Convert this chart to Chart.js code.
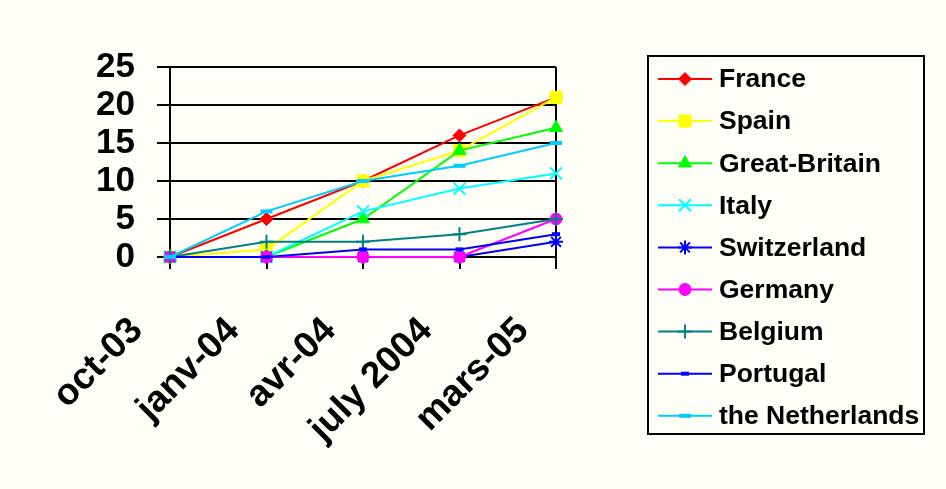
<!DOCTYPE html>
<html><head><meta charset="utf-8">
<style>html,body{margin:0;padding:0;background:#FFFFF8;}#wrap{width:946px;height:489px;}</style>
<script src="https://cdn.jsdelivr.net/npm/chart.js@4"></script>
</head><body><div id="wrap"><canvas id="c" width="946" height="489"></canvas></div>
<script>
const categories = ['oct-03','janv-04','avr-04','july 2004','mars-05'];
const seriesNames = ['France','Spain','Great-Britain','Italy','Switzerland','Germany','Belgium','Portugal','the Netherlands'];
const France = [0,5,10,16,21];
const Spain = [0,1,10,14,21];
const GreatBritain = [0,0,5,14,17];
const Italy = [0,0,6,9,11];
const Switzerland = [0,0,0,0,2];
const Germany = [0,0,0,0,5];
const Belgium = [0,2,2,3,5];
const Portugal = [0,0,1,1,3];
const Netherlands = [0,6,10,12,15];
const yTicks = [0,5,10,15,20,25];

const values = [France,Spain,GreatBritain,Italy,Switzerland,Germany,Belgium,Portugal,Netherlands];
const colors = ['#FF0000','#FFFF00','#00FF00','#00FFFF','#0000FF','#FF00FF','#008080','#0000FF','#00CCFF'];
const styles = [
  {s:'rectRot',r:6.5,bw:1},
  {s:'rect',r:8.5,bw:1},
  {s:'triangle',r:7.5,bw:1},
  {s:'crossRot',r:8.5,bw:2},
  {s:'star',r:7,bw:2},
  {s:'circle',r:6,bw:1},
  {s:'cross',r:7,bw:2},
  {s:'line',r:4,bw:4},
  {s:'line',r:6,bw:4}
];

const datasets = seriesNames.map((name,i)=>({
  label:name,
  data:values[i],
  borderColor:colors[i],
  backgroundColor:colors[i],
  borderWidth:2,
  pointStyle:styles[i].s,
  pointRadius:styles[i].r,
  pointHoverRadius:styles[i].r,
  pointBorderWidth:styles[i].bw,
  pointBackgroundColor:colors[i],
  pointBorderColor:colors[i],
  tension:0,
  clip:false,
  order:seriesNames.length - i
}));

const legendPlugin = {
  id:'boxLegend',
  afterDraw(chart){
    const ctx = chart.ctx;
    const area = chart.chartArea;
    const left = area.right + 92, top = 56, w = 276, h = 378;
    ctx.save();
    ctx.strokeStyle = '#000'; ctx.lineWidth = 2;
    ctx.strokeRect(left, top, w, h);
    const step = 42.1;
    ctx.font = 'bold 26.5px "Liberation Sans", Arial, sans-serif';
    ctx.textBaseline = 'middle';
    ctx.fillStyle = '#000';
    chart.data.datasets.forEach((ds,i)=>{
      const y = top + 23 + i*step;
      const x0 = left + 10, x1 = left + 64;
      ctx.strokeStyle = ds.borderColor; ctx.lineWidth = 2;
      ctx.beginPath(); ctx.moveTo(x0,y); ctx.lineTo(x1,y); ctx.stroke();
      ctx.fillStyle = ds.pointBackgroundColor; ctx.strokeStyle = ds.pointBorderColor;
      ctx.lineWidth = ds.pointBorderWidth;
      Chart.helpers.drawPoint(ctx,{pointStyle:ds.pointStyle,radius:ds.pointRadius,rotation:0,borderWidth:ds.pointBorderWidth},(x0+x1)/2,y);
      ctx.fillStyle = '#000';
      ctx.fillText(ds.label, left + 71, y + 1);
    });
    ctx.restore();
  }
};

new Chart(document.getElementById('c'),{
  type:'line',
  data:{labels:categories,datasets},
  plugins:[legendPlugin],
  options:{
    responsive:false,
    animation:false,
    devicePixelRatio:1,
    layout:{padding:{left:0,top:67,right:390,bottom:0}},
    plugins:{legend:{display:false},tooltip:{enabled:false}},
    scales:{
      x:{
        offset:false,
        grid:{color:(c)=> (c.index===0||c.index===categories.length-1)?'#000':'rgba(0,0,0,0)',lineWidth:2,tickLength:12,tickColor:'#000',drawTicks:true},
        border:{display:true,color:'#000',width:2},
        ticks:{color:'#000',font:{family:'"Liberation Sans", Arial, sans-serif',size:37,weight:'bold'},maxRotation:45,minRotation:45,autoSkip:false,padding:40,labelOffset:-33},
        afterFit(s){s.height = 489-257;}
      },
      y:{
        min:0,max:25,
        afterBuildTicks(s){s.ticks = yTicks.map(v=>({value:v}));},
        grid:{color:'#000',lineWidth:2,tickLength:13,tickColor:'#000'},
        border:{display:true,color:'#000',width:2},
        ticks:{color:'#000',autoSkip:false,font:{family:'"Liberation Sans", Arial, sans-serif',size:35,weight:'bold'},padding:22},
        afterFit(s){s.width = 170;}
      }
    }
  }
});
</script></body></html>
